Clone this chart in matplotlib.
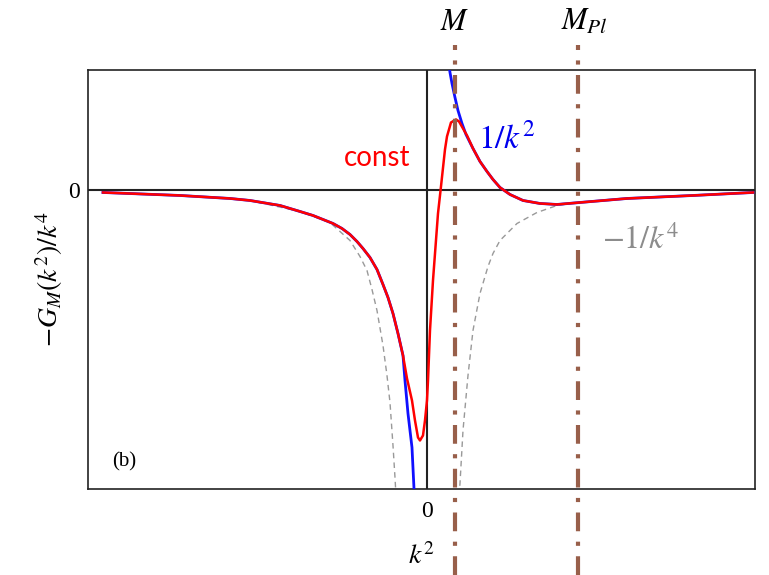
import matplotlib
matplotlib.use("Agg")
import matplotlib.pyplot as plt

plt.rcParams["mathtext.fontset"] = "stix"

# propagator curves, k^2 on x (0 at the pole), -G/k^4 on y
red_x = [-3.24, -2.47, -1.97, -1.77, -1.47, -1.27, -1.14, -0.94, -0.85, -0.77,
         -0.70, -0.64, -0.57, -0.50, -0.44, -0.39, -0.34, -0.29, -0.24, -0.20,
         -0.15, -0.12, -0.09, -0.07, -0.04, -0.02, 0.00, 0.01, 0.03, 0.06, 0.11,
         0.14, 0.18, 0.20, 0.24, 0.29, 0.32, 0.36, 0.40, 0.46, 0.53, 0.60, 0.66,
         0.73, 0.83, 0.96, 1.13, 1.30, 1.53, 2.00, 2.66, 3.26]
red_y = [-0.02, -0.05, -0.08, -0.10, -0.15, -0.21, -0.25, -0.33, -0.38, -0.44,
         -0.51, -0.58, -0.67, -0.79, -0.94, -1.07, -1.23, -1.43, -1.65, -1.88,
         -2.10, -2.30, -2.47, -2.50, -2.45, -2.30, -2.10, -1.90, -1.40, -0.90,
         -0.23, 0.04, 0.41, 0.54, 0.68, 0.71, 0.69, 0.62, 0.55, 0.42, 0.29, 0.19,
         0.11, 0.03, -0.04, -0.10, -0.13, -0.14, -0.12, -0.08, -0.05, -0.02]

blue_left_x = [-3.24, -2.47, -1.97, -1.77, -1.47, -1.27, -1.14, -0.94, -0.85,
               -0.77, -0.70, -0.64, -0.57, -0.50, -0.44, -0.39, -0.34, -0.29,
               -0.24, -0.22, -0.19, -0.15, -0.13, -0.12]
blue_left_y = [-0.02, -0.05, -0.08, -0.10, -0.15, -0.21, -0.25, -0.33, -0.38,
               -0.44, -0.51, -0.58, -0.67, -0.79, -0.94, -1.07, -1.23, -1.43,
               -1.65, -1.90, -2.23, -2.57, -2.98, -3.10]
blue_right_x = [0.22, 0.23, 0.25, 0.28, 0.31, 0.35, 0.39, 0.46, 0.53, 0.60, 0.66,
                0.73, 0.83, 0.96, 1.13, 1.30, 1.53, 2.00, 2.66, 3.26]
blue_right_y = [1.25, 1.18, 1.07, 0.93, 0.80, 0.67, 0.56, 0.42, 0.29, 0.19, 0.11,
                0.03, -0.04, -0.10, -0.13, -0.14, -0.12, -0.08, -0.05, -0.02]

grey_left_x = [-3.24, -2.47, -1.97, -1.77, -1.27, -0.97, -0.77, -0.67, -0.60,
               -0.55, -0.50, -0.44, -0.40, -0.37, -0.34, -0.32, -0.31]
grey_left_y = [-0.02, -0.05, -0.08, -0.10, -0.21, -0.32, -0.50, -0.66, -0.80,
               -0.99, -1.20, -1.55, -1.85, -2.12, -2.55, -2.87, -3.05]
grey_right_x = [0.32, 0.33, 0.36, 0.41, 0.46, 0.53, 0.61, 0.66, 0.73, 0.90, 1.10,
                1.30, 1.50, 2.00, 2.66, 3.26]
grey_right_y = [-3.05, -2.93, -2.40, -1.85, -1.40, -1.03, -0.76, -0.63, -0.50,
                -0.33, -0.22, -0.15, -0.12, -0.08, -0.05, -0.02]

scale_x = [0.28, 1.51]
scale_names = ["$M$", "$M_{Pl}$"]

brown = "#985F4A"

fig = plt.figure(figsize=(7.69, 5.75), dpi=100)
ax = fig.add_axes([0.1144, 0.1496, 0.8674, 0.7287])
ax.set_xlim(-3.39, 3.28)
ax.set_ylim(-2.985, 1.205)

ax.axhline(0, color="#222222", lw=1.5, zorder=2)
ax.axvline(0, color="#222222", lw=1.5, zorder=2)

ax.plot(grey_left_x, grey_left_y, color="#999999", lw=1.0, ls=(0, (4, 3)), zorder=3)
ax.plot(grey_right_x, grey_right_y, color="#999999", lw=1.0, ls=(0, (4, 3)), zorder=3)
ax.plot(blue_left_x, blue_left_y, color="#1010ff", lw=2.0, zorder=4)
ax.plot(blue_right_x, blue_right_y, color="#1010ff", lw=2.0, zorder=4)
ax.plot(red_x, red_y, color="#ff0000", lw=1.8, zorder=5)

for sx, name in zip(scale_x, scale_names):
    ax.axvline(sx, ymin=-0.205, ymax=1.06, color=brown, lw=3,
               ls=(0, (4.5, 2.5, 1, 2.5)), clip_on=False, zorder=6)
    ax.text(sx + (0.06 if name != "$M$" else 0), 1.115, name,
            transform=ax.get_xaxis_transform(), ha="center", va="center",
            fontsize=22)

for s in ax.spines.values():
    s.set_linewidth(1.2)
    s.set_color("#222222")

ax.set_xticks([0])
ax.set_yticks([0])
ax.set_xticklabels(["0"], fontfamily="Liberation Serif", fontsize=17)
ax.set_yticklabels(["0"], fontfamily="Liberation Serif", fontsize=17)
ax.tick_params(axis="y", length=0, pad=6)
ax.tick_params(axis="x", length=0, pad=9)
ax.set_xlabel("$k^2$", fontsize=20, labelpad=14)
ax.set_ylabel(r"$-G_M(k^2)/k^4$", fontsize=20, labelpad=2)

ax.text(-0.50, 0.325, "const", color="#ff0000", fontsize=20, fontfamily="Lato",
        ha="center", va="center")
ax.text(0.51, 0.52, "$1/k^2$", color="#0000ee", fontsize=24, ha="left", va="center")
ax.text(1.75, -0.50, "$-1/k^4$", color="#8c8c8c", fontsize=23, ha="left", va="center")
ax.text(0.055, 0.064, "(b)", transform=ax.transAxes, fontfamily="Liberation Serif",
        fontsize=15, ha="center", va="center")

fig.savefig("out.png", dpi=100)
